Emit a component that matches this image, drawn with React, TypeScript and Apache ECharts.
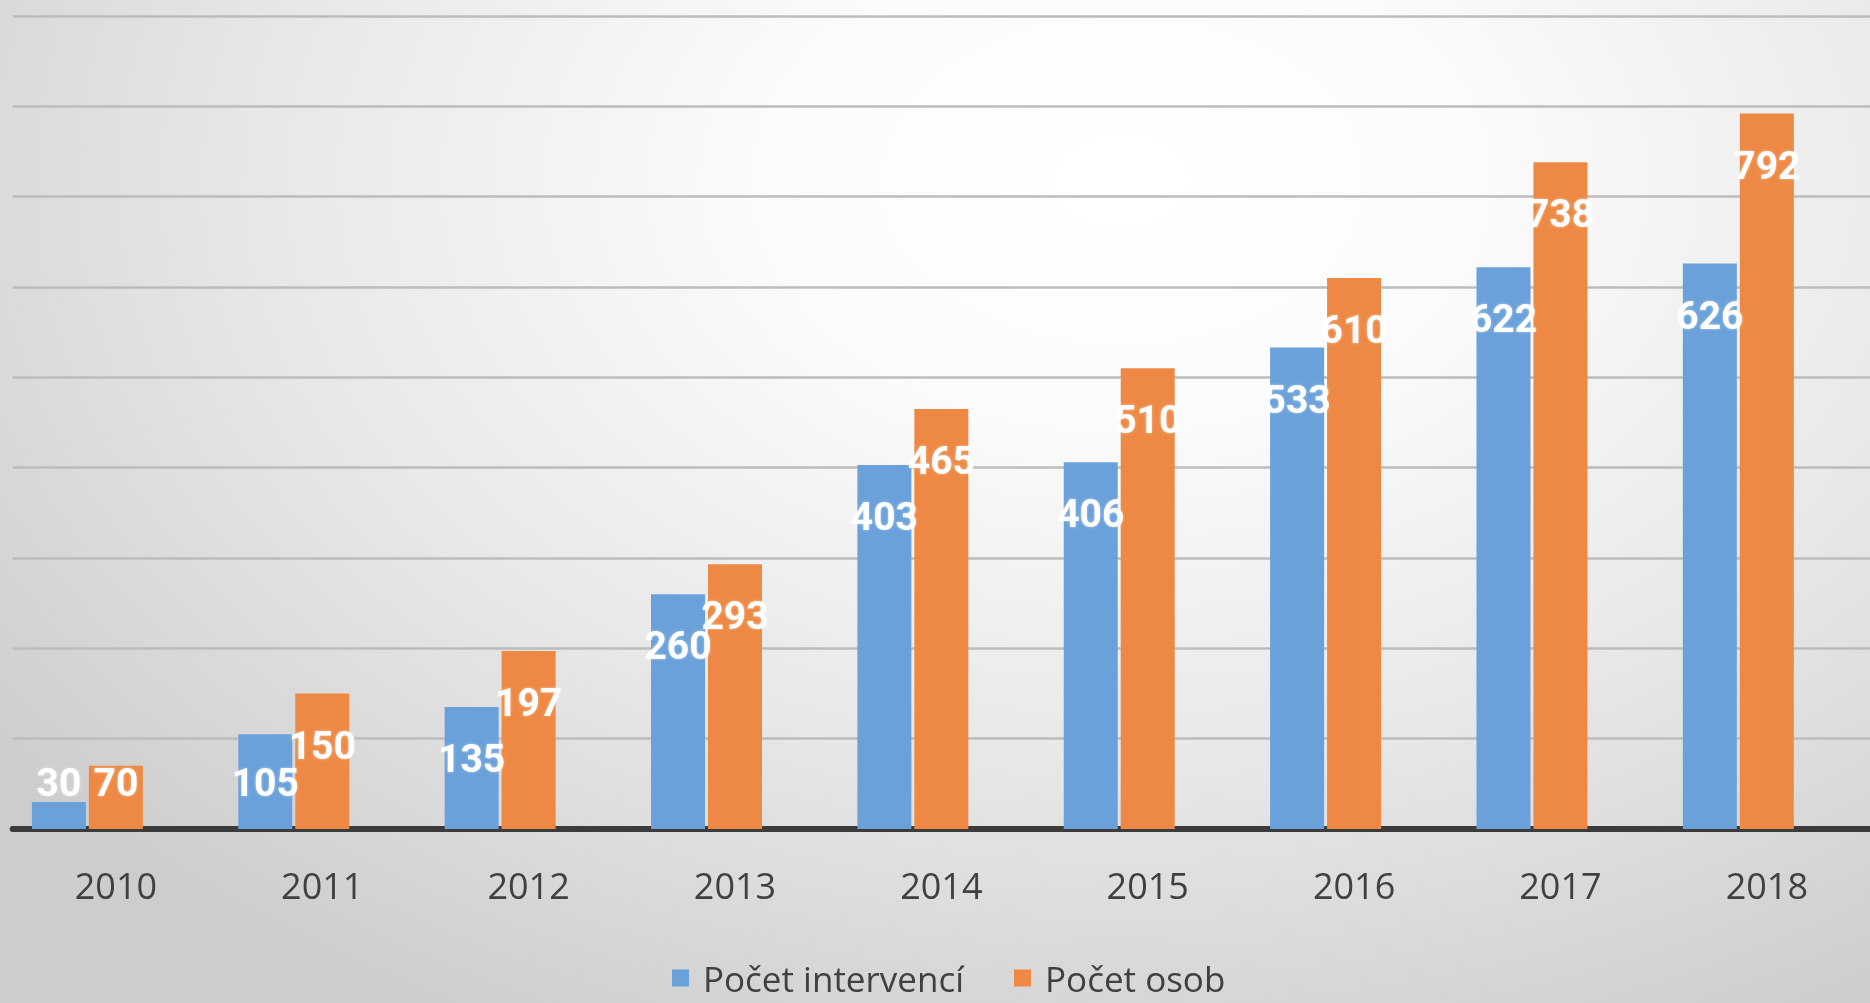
import React, { useEffect, useRef } from "react";
import * as echarts from "echarts";

const categories = ["2010", "2011", "2012", "2013", "2014", "2015", "2016", "2017", "2018"];
const interventions = [30, 105, 135, 260, 403, 406, 533, 622, 626];
const persons = [70, 150, 197, 293, 465, 510, 610, 738, 792];
const seriesNames = ["Počet intervencí", "Počet osob"];
const yMin = 0;
const yMax = 900;
const yInterval = 100;

const BLUE = "#6aa1da";
const ORANGE = "#ed8944";

const labelBase = {
  show: true,
  color: "#ffffff",
  fontFamily: "'Liberation Sans Narrow', 'Roboto', sans-serif",
  fontWeight: "bold" as const,
  fontSize: 39,
  lineHeight: 40,
  textShadowColor: "rgba(255,255,255,0.45)",
  textShadowBlur: 3,
};

function withLabels(values: number[]) {
  return values.map((v) => ({
    value: v,
    label:
      v < 110
        ? { ...labelBase, position: "insideBottom", distance: 26 }
        : { ...labelBase, position: "insideTop", distance: 32 },
  }));
}

export default function App() {
  const ref = useRef<HTMLDivElement>(null);

  useEffect(() => {
    if (!ref.current) return;
    const chart = echarts.init(ref.current, undefined, { renderer: "svg" });
    chart.setOption({
      animation: false,
      backgroundColor: "transparent",
      legend: {
        data: seriesNames,
        left: 667,
        top: 955,
        itemWidth: 17,
        itemHeight: 17,
        itemGap: 50,
        icon: "rect",
        textStyle: {
          fontFamily: "'Open Sans', sans-serif",
          fontSize: 35,
          lineHeight: 36,
          color: "#404040",
          padding: [0, 0, 0, 9],
        },
      },
      grid: { left: 12.7, width: 1865, top: 16, bottom: 174, containLabel: false },
      xAxis: {
        type: "category",
        data: categories,
        axisTick: { show: false },
        axisLine: { lineStyle: { color: "#3b3b3b", width: 6 } },
        axisLabel: {
          fontFamily: "'Open Sans', sans-serif",
          fontSize: 36,
          lineHeight: 36,
          color: "#404040",
          margin: 38,
        },
      },
      yAxis: {
        type: "value",
        min: yMin,
        max: yMax,
        interval: yInterval,
        axisLabel: { show: false },
        axisLine: { show: false },
        axisTick: { show: false },
        splitLine: { lineStyle: { color: "#bcbcbc", width: 2.5 } },
      },
      series: [
        {
          name: seriesNames[0],
          type: "bar",
          barWidth: 54,
          barGap: "5.5%",
          itemStyle: { color: BLUE },
          data: withLabels(interventions),
        },
        {
          name: seriesNames[1],
          type: "bar",
          barWidth: 54,
          barGap: "5.5%",
          itemStyle: { color: ORANGE },
          data: withLabels(persons),
        },
        {
          name: "spacer",
          type: "bar",
          barWidth: 54,
          barGap: "5.5%",
          itemStyle: { color: "transparent" },
          silent: true,
          data: categories.map(() => null),
        },
      ],
    });
    return () => chart.dispose();
  }, []);

  return (
    <div
      ref={ref}
      style={{
        position: "fixed",
        left: 0,
        top: 0,
        width: 1870,
        height: 1003,
        background:
          "radial-gradient(ellipse 75% 95% at 60% 18%, #ffffff 0%, #fbfbfb 25%, #e8e8e8 60%, #cdcdcd 100%)",
      }}
    />
  );
}
